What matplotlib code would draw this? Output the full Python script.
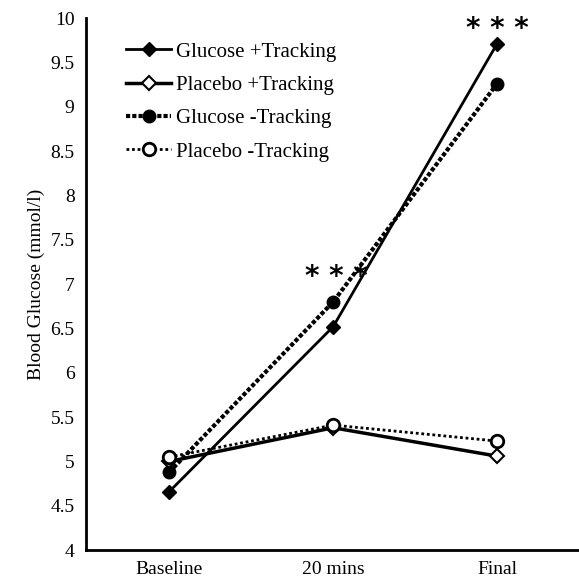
import matplotlib.pyplot as plt

plt.rcParams['font.family'] = ['Liberation Serif', 'DejaVu Serif']

times = ['Baseline', '20 mins', 'Final']
glucose_track = [4.66, 6.52, 9.71]
placebo_track = [5.00, 5.38, 5.06]
glucose_notrack = [4.88, 6.80, 9.26]
placebo_notrack = [5.05, 5.41, 5.23]

x = list(range(len(times)))

fig, ax = plt.subplots(figsize=(5.79, 5.84), dpi=100)

ax.plot(x, glucose_track, color='black', lw=2, linestyle='-', marker='D',
        markersize=7.5, markerfacecolor='black', label='Glucose +Tracking')
ax.plot(x, placebo_track, color='black', lw=2.5, linestyle='-', marker='D',
        markersize=7.5, markerfacecolor='white', markeredgewidth=1.5, label='Placebo +Tracking')
ax.plot(x, glucose_notrack, color='black', lw=3, linestyle=(0, (1, 0.5)), marker='o',
        markersize=9, markerfacecolor='black', label='Glucose -Tracking')
ax.plot(x, placebo_notrack, color='black', lw=2, linestyle=(0, (1, 1)), marker='o',
        markersize=9, markerfacecolor='white', markeredgewidth=2, label='Placebo -Tracking')

# significance markers
ax.text(1.02, 7.08, '* * *', ha='center', va='center', fontsize=20, fontweight='bold',
        family='DejaVu Sans')
ax.text(2.0, 9.88, '* * *', ha='center', va='center', fontsize=20, fontweight='bold',
        family='DejaVu Sans')

ax.set_xlim(-0.51, 2.5)
ax.set_ylim(4, 10)
ax.set_yticks([4, 4.5, 5, 5.5, 6, 6.5, 7, 7.5, 8, 8.5, 9, 9.5, 10])
ax.set_yticklabels(['4', '4.5', '5', '5.5', '6', '6.5', '7', '7.5', '8', '8.5', '9', '9.5', '10'])
ax.set_xticks(x)
ax.set_xticklabels(times)
ax.tick_params(axis='both', length=0, labelsize=14, pad=8)
ax.set_ylabel('Blood Glucose (mmol/l)', fontsize=14)

for side in ['top', 'right']:
    ax.spines[side].set_visible(False)
for side in ['left', 'bottom']:
    ax.spines[side].set_linewidth(2)

ax.legend(loc='upper left', bbox_to_anchor=(0.043, 0.99), frameon=False, fontsize=15,
          handlelength=2.2, labelspacing=0.66, handletextpad=0.2)

fig.subplots_adjust(left=0.148, right=1.0, bottom=0.058, top=0.969)
fig.savefig('out.png')
